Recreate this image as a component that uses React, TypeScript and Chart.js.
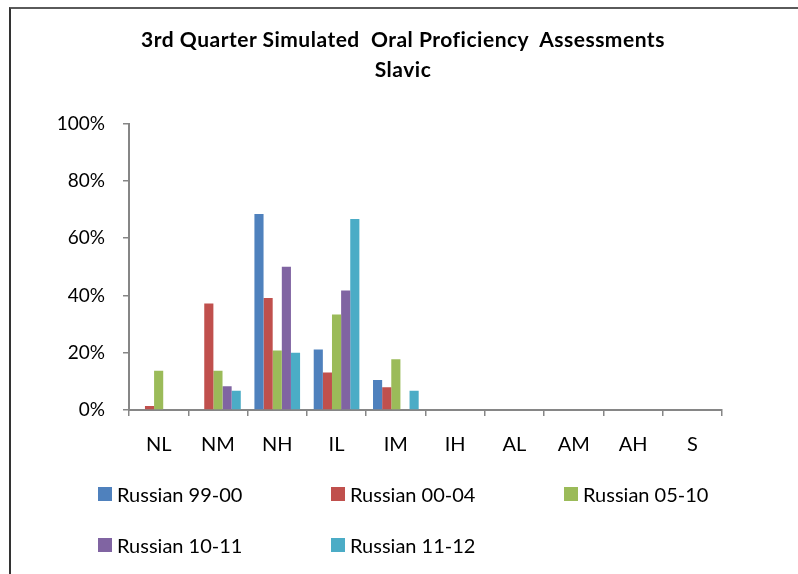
import React, { useEffect, useRef } from "react";
import { Chart, registerables } from "chart.js";

Chart.register(...registerables);

const titleLines = ["3rd Quarter Simulated  Oral Proficiency  Assessments", "Slavic"];
const categories = ["NL", "NM", "NH", "IL", "IM", "IH", "AL", "AM", "AH", "S"];
const seriesNames = ["Russian 99-00", "Russian 00-04", "Russian 05-10", "Russian 10-11", "Russian 11-12"];
const russian9900 = [0, 0, 68.4, 21.1, 10.5, 0, 0, 0, 0, 0];
const russian0004 = [1.4, 37.2, 39.1, 13.1, 7.9, 0, 0, 0, 0, 0];
const russian0510 = [13.7, 13.7, 20.8, 33.3, 17.7, 0, 0, 0, 0, 0];
const russian1011 = [0, 8.3, 50, 41.7, 0, 0, 0, 0, 0, 0];
const russian1112 = [0, 6.7, 20, 66.7, 6.7, 0, 0, 0, 0, 0];
const yTicks = [0, 20, 40, 60, 80, 100];
const colors = ["#4F81BD", "#C0504D", "#9BBB59", "#8064A2", "#4BACC6"];

const seriesValues = [russian9900, russian0004, russian0510, russian1011, russian1112];

const FONT = "Lato, 'Open Sans', sans-serif";
const AXIS = "#868686";

export default function App() {
  const ref = useRef<HTMLCanvasElement | null>(null);

  useEffect(() => {
    if (!ref.current) return;
    const chart = new Chart(ref.current, {
      type: "bar",
      data: {
        labels: categories,
        datasets: seriesNames.map((name, i) => ({
          label: name,
          data: seriesValues[i],
          backgroundColor: colors[i],
          borderWidth: 0,
          categoryPercentage: 0.77,
          barPercentage: 1,
        })),
      },
      options: {
        animation: false,
        responsive: false,
        maintainAspectRatio: false,
        layout: { padding: { left: 0, top: 123.5, right: 76, bottom: 104 } },
        plugins: {
          legend: { display: false },
          title: { display: false },
          tooltip: { enabled: false },
        },
        scales: {
          x: {
            grid: {
              display: true,
              drawOnChartArea: false,
              drawTicks: true,
              tickLength: 6,
              color: AXIS,
              lineWidth: 1.5,
              offset: true,
            },
            border: { color: AXIS, width: 2 },
            ticks: {
              font: { family: FONT, size: 20 },
              color: "#000",
              padding: 17,
              maxRotation: 0,
              autoSkip: false,
            },
            afterFit: (s: any) => {
              s.height = 60;
            },
          },
          y: {
            min: 0,
            max: 100,
            afterBuildTicks: (s: any) => {
              s.ticks = yTicks.map((v) => ({ value: v }));
            },
            ticks: {
              font: { family: FONT, size: 19 },
              color: "#000",
              padding: 18,
              callback: (v: any) => v + "%",
            },
            grid: {
              drawOnChartArea: false,
              drawTicks: true,
              tickLength: 6,
              color: AXIS,
              lineWidth: 1.5,
            },
            border: { color: AXIS, width: 2 },
            afterFit: (s: any) => {
              s.width = 129;
            },
          },
        },
      },
    });
    return () => chart.destroy();
  }, []);

  const legendCols = [98, 331, 564];
  const legendRows = [487, 538];

  return (
    <div
      style={{
        position: "absolute",
        left: 0,
        top: 0,
        width: 798,
        height: 574,
        overflow: "hidden",
        background: "#fff",
        fontFamily: FONT,
      }}
    >
      <div
        style={{
          position: "absolute",
          left: 9,
          top: 7,
          width: 1000,
          height: 1000,
          borderLeft: "2px solid #333",
          borderTop: "2px solid #5a5a5a",
        }}
      />
      <canvas ref={ref} width={798} height={574} style={{ position: "absolute", left: 0, top: 0 }} />
      {titleLines.map((t, i) => (
        <div
          key={i}
          style={{
            position: "absolute",
            left: 0,
            width: 806,
            top: 23.5 + i * 30.5,
            textAlign: "center",
            fontWeight: 700,
            fontSize: 21,
            letterSpacing: "0.5px",
            lineHeight: "30px",
            color: "#000",
            whiteSpace: "pre",
          }}
        >
          {t}
        </div>
      ))}
      {seriesNames.map((name, i) => {
        const x = legendCols[i % 3];
        const y = legendRows[Math.floor(i / 3)];
        return (
          <div key={name}>
            <div
              style={{
                position: "absolute",
                left: x,
                top: y,
                width: 14,
                height: 14,
                background: colors[i],
              }}
            />
            <div
              style={{
                position: "absolute",
                left: x + 19,
                top: y - 5,
                fontSize: 20,
                lineHeight: "24px",
                color: "#000",
                whiteSpace: "pre",
              }}
            >
              {name}
            </div>
          </div>
        );
      })}
    </div>
  );
}
